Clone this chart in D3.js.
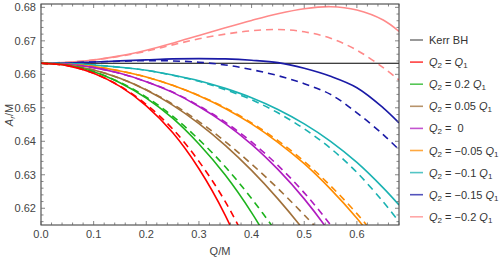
<!DOCTYPE html>
<html><head><meta charset="utf-8">
<script src="https://cdn.jsdelivr.net/npm/d3@7"></script>
<style>body{margin:0;background:#fff}svg{display:block}text{font-family:"Liberation Sans",Arial,sans-serif}</style>
</head><body><svg id="c" width="501" height="258"></svg>
<script>
const qGrid = [0, 0.05, 0.1, 0.15, 0.2, 0.25, 0.3, 0.35, 0.4, 0.45, 0.5, 0.55, 0.6, 0.65, 0.68];
const kerrValue = 0.6633;
const redSolid    = [0.6633,0.6626,0.6603,0.6564,0.6506,0.6426,0.6318,0.6179,0.6000];
const redDashed   = [0.6633,0.6626,0.6603,0.6565,0.6510,0.6437,0.6340,0.6220,0.6070];
const greenSolid  = [0.6633,0.6627,0.6608,0.6575,0.6529,0.6469,0.6392,0.6299,0.6187,0.6055];
const greenDashed = [0.6633,0.6627,0.6608,0.6576,0.6532,0.6475,0.6405,0.6324,0.6229,0.6123];
const brownSolid  = [0.6633,0.6628,0.6613,0.6588,0.6553,0.6508,0.6453,0.6388,0.6313,0.6228,0.6133,0.6028];
const brownDashed = [0.6633,0.6628,0.6613,0.6588,0.6554,0.6511,0.6459,0.6399,0.6332,0.6259,0.6180,0.6097];
const purpleSolid = [0.6633,0.6630,0.6620,0.6603,0.6578,0.6546,0.6504,0.6453,0.6391,0.6316,0.6228,0.6124,0.6002];
const purpleDashed= [0.6633,0.6630,0.6620,0.6603,0.6578,0.6547,0.6506,0.6457,0.6398,0.6328,0.6246,0.6150,0.6039];
const orangeSolid = [0.6633,0.6630,0.6623,0.6610,0.6592,0.6567,0.6536,0.6498,0.6452,0.6397,0.6333,0.6257,0.6170,0.6069];
const orangeDashed= [0.6633,0.6630,0.6623,0.6610,0.6592,0.6567,0.6537,0.6500,0.6455,0.6402,0.6340,0.6267,0.6184,0.6089];
const tealSolid   = [0.6633,0.6632,0.6628,0.6621,0.6612,0.6598,0.6581,0.6558,0.6530,0.6495,0.6452,0.6400,0.6337,0.6261,0.6210];
const tealDashed  = [0.6633,0.6632,0.6628,0.6621,0.6612,0.6597,0.6579,0.6554,0.6524,0.6485,0.6437,0.6379,0.6307,0.6219,0.6160];
const blueSolid   = [0.6633,0.6634,0.6637,0.6640,0.6643,0.6646,0.6647,0.6646,0.6642,0.6635,0.6618,0.6594,0.6560,0.6500,0.6455];
const blueDashed  = [0.6633,0.6634,0.6637,0.6639,0.6641,0.6640,0.6636,0.6628,0.6614,0.6596,0.6572,0.6540,0.6485,0.6420,0.6375];
const pinkSolid   = [0.6633,0.6636,0.6643,0.6655,0.6672,0.6693,0.6716,0.6739,0.6761,0.6781,0.6796,0.6802,0.6792,0.6762,0.6728];
const pinkDashed  = [0.6633,0.6636,0.6643,0.6654,0.6669,0.6688,0.6706,0.6720,0.6730,0.6734,0.6727,0.6708,0.6672,0.6620,0.6583];

// legend: text after "Q2" and whether it ends with " Q1"
const legendRest = ["= ","= 0.2 ","= 0.05 ","=  0","= \u22120.05 ","= \u22120.1 ","= \u22120.15 ","= \u22120.2 "];
const legendHasQ1 = [true,true,true,false,true,true,true,true];
const colors = ["#ff0000","#1db31d","#a0703a","#b01cc0","#ff8c00","#1ab2b2","#1a1aa6","#ff8a8a"];
const solids = [redSolid,greenSolid,brownSolid,purpleSolid,orangeSolid,tealSolid,blueSolid,pinkSolid];
const dashes = [redDashed,greenDashed,brownDashed,purpleDashed,orangeDashed,tealDashed,blueDashed,pinkDashed];
const xTicks = [0,0.1,0.2,0.3,0.4,0.5,0.6];
const yTicks = [0.62,0.63,0.64,0.65,0.66,0.67,0.68];

const svg = d3.select("#c");
const L=41, R=399, T=4, B=225;
const x = d3.scaleLinear().domain([0,0.68]).range([L,R]);
const y = d3.scaleLinear().domain([0.615,0.681]).range([B,T]);

svg.append("clipPath").attr("id","clp").append("rect").attr("x",L).attr("y",T).attr("width",R-L).attr("height",B-T);
const g = svg.append("g").attr("clip-path","url(#clp)");
const line = d3.line().x(d=>x(d[0])).y(d=>y(d[1])).curve(d3.curveCatmullRom.alpha(0.5));
function pts(arr){return arr.map((v,i)=>[qGrid[i],v]);}

g.append("path").attr("d",line([[0,kerrValue],[0.68,kerrValue]])).attr("stroke","#000").attr("stroke-width",1.2).attr("fill","none");
for(let i=solids.length-1;i>=0;i--){
  g.append("path").attr("d",line(pts(dashes[i]))).attr("stroke",colors[i]).attr("stroke-width",1.6).attr("fill","none").attr("stroke-dasharray","7,5");
  g.append("path").attr("d",line(pts(solids[i]))).attr("stroke",colors[i]).attr("stroke-width",1.6).attr("fill","none");
}

// frame
const frame = svg.append("g");
frame.append("rect").attr("x",L).attr("y",T).attr("width",R-L).attr("height",B-T).attr("fill","none").attr("stroke","#333").attr("stroke-width",1);
const xMinor = d3.range(0,0.681,0.02);
const yMinor = d3.range(0.616,0.681,0.002);
const tk = frame.append("g").attr("stroke","#666").attr("stroke-width",0.8);
xMinor.forEach(v=>{const isM=Math.abs(v*10-Math.round(v*10))<1e-6;const l=isM?4:2.5;
  tk.append("line").attr("x1",x(v)).attr("x2",x(v)).attr("y1",B).attr("y2",B-l);
  tk.append("line").attr("x1",x(v)).attr("x2",x(v)).attr("y1",T).attr("y2",T+l);});
yMinor.forEach(v=>{const isM=Math.abs(v*100-Math.round(v*100))<1e-6;const l=isM?4:2.5;
  tk.append("line").attr("y1",y(v)).attr("y2",y(v)).attr("x1",L).attr("x2",L+l);
  tk.append("line").attr("y1",y(v)).attr("y2",y(v)).attr("x1",R).attr("x2",R-l);});

svg.append("g").selectAll("text").data(xTicks).join("text").attr("x",d=>x(d)).attr("y",238).attr("text-anchor","middle").attr("font-size",11).attr("fill","#444").text(d=>d.toFixed(1));
svg.append("g").selectAll("text").data(yTicks).join("text").attr("x",36).attr("y",d=>y(d)+4).attr("text-anchor","end").attr("font-size",11).attr("fill","#444").text(d=>d.toFixed(2));

svg.append("text").attr("x",220).attr("y",255).attr("text-anchor","middle").attr("font-size",11).attr("fill","#444").text("Q/M");
const yl = svg.append("text").attr("transform","translate(13,115) rotate(-90)").attr("text-anchor","middle").attr("font-size",11).attr("fill","#444");
yl.append("tspan").attr("font-style","italic").text("A");
yl.append("tspan").attr("font-style","italic").attr("font-size",8).attr("dy",2).text("r");
yl.append("tspan").attr("dy",-2).text("/M");

// legend
const lg = svg.append("g");
const ly0 = 40, ldy = 22.1;
lg.append("line").attr("x1",410).attr("x2",423).attr("y1",ly0).attr("y2",ly0).attr("stroke","#555").attr("stroke-width",1.2);
lg.append("text").attr("x",429).attr("y",ly0+4).attr("font-size",11).attr("fill","#333").text("Kerr BH");
legendRest.forEach((rest,i)=>{
  const yy = ly0+ldy*(i+1);
  lg.append("line").attr("x1",410).attr("x2",423).attr("y1",yy).attr("y2",yy).attr("stroke",colors[i]).attr("stroke-width",1.6).attr("opacity",0.75);
  const t = lg.append("text").attr("x",429).attr("y",yy+4).attr("font-size",11).attr("fill","#333").attr("xml:space","preserve");
  t.append("tspan").attr("font-style","italic").text("Q");
  t.append("tspan").attr("font-size",8).attr("dy",2).text("2");
  t.append("tspan").attr("dy",-2).text("\u00a0"+rest.replace(/ /g,"\u00a0"));
  if(legendHasQ1[i]){
    t.append("tspan").attr("font-style","italic").text("Q");
    t.append("tspan").attr("font-size",8).attr("dy",2).text("1");
  }
});
</script></body></html>
